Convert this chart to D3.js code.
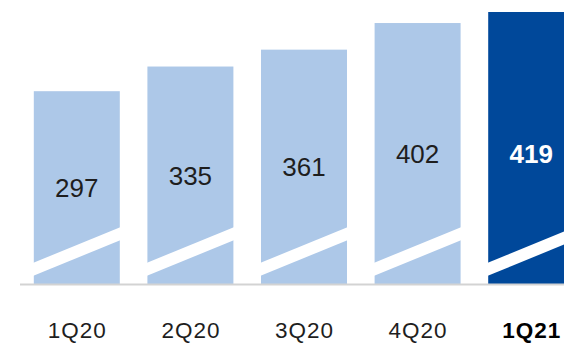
<!DOCTYPE html>
<html>
<head>
<meta charset="utf-8">
<script src="https://cdn.jsdelivr.net/npm/d3@7"></script>
<style>
  html, body { margin: 0; padding: 0; background: #fff; }
  svg { display: block; }
</style>
</head>
<body>
<svg id="chart"></svg>
<script>
// quarterly values, last one highlighted
const quarters = ["1Q20", "2Q20", "3Q20", "4Q20", "1Q21"];
const values = [297, 335, 361, 402, 419];
const highlight = [false, false, false, false, true];

document.addEventListener("DOMContentLoaded", () => {
    const width = 564, height = 344;
    const base = 284;

    const svg = d3.select("#chart")
        .attr("width", width)
        .attr("height", height);

    const data = quarters.map((q, i) => ({ q: q, v: values[i], hi: highlight[i] }));

    const x = d3.scaleBand()
        .domain(quarters)
        .range([20, 588])
        .paddingInner(0.243)
        .paddingOuter(0.1215);

    const y = d3.scaleLinear()
        .domain([0, 419])
        .range([base, 12]);

    const light = "#adc8e8", dark = "#00489a";

    // bars
    svg.selectAll("rect.bar")
        .data(data)
        .enter()
        .append("rect")
        .attr("class", "bar")
        .attr("x", d => x(d.q))
        .attr("y", d => y(d.v))
        .attr("width", x.bandwidth())
        .attr("height", d => base - y(d.v))
        .style("fill", d => d.hi ? dark : light);

    // white "axis break" stripe across the foot of each bar
    const bw = x.bandwidth();
    svg.selectAll("path.brk")
        .data(data)
        .enter()
        .append("path")
        .attr("class", "brk")
        .attr("d", d => {
            const x0 = x(d.q) - 1, x1 = x(d.q) + bw + 1;
            return `M${x0},${base - 21} L${x1},${base - 57} L${x1},${base - 44} L${x0},${base - 8} Z`;
        })
        .style("fill", "#fff");

    // baseline
    svg.append("line")
        .attr("x1", 20).attr("x2", width)
        .attr("y1", base + 0.5).attr("y2", base + 0.5)
        .style("stroke", "#d3d3d3")
        .style("stroke-width", 2);

    // value labels, centred in bar (kept below the top band)
    svg.selectAll("text.val")
        .data(data)
        .enter()
        .append("text")
        .attr("class", "val")
        .attr("x", d => x(d.q) + bw / 2)
        .attr("y", d => Math.max((y(d.v) + base) / 2, 154))
        .attr("dy", "0.36em")
        .attr("text-anchor", "middle")
        .style("font-family", "'Liberation Sans', Arial, sans-serif")
        .style("font-size", "26px")
        .style("font-weight", d => d.hi ? "bold" : "normal")
        .style("fill", d => d.hi ? "#fff" : "#1e1e1e")
        .text(d => d.v);

    // category labels
    svg.selectAll("text.cat")
        .data(data)
        .enter()
        .append("text")
        .attr("class", "cat")
        .attr("x", d => x(d.q) + bw / 2 + 0.5)
        .attr("y", 338)
        .attr("text-anchor", "middle")
        .style("font-family", "'Liberation Sans', Arial, sans-serif")
        .style("font-size", "22.5px")
        .style("letter-spacing", "1px")
        .style("font-weight", d => d.hi ? "bold" : "normal")
        .style("fill", d => d.hi ? "#000" : "#1e1e1e")
        .text(d => d.q);
});
</script>
</body>
</html>
